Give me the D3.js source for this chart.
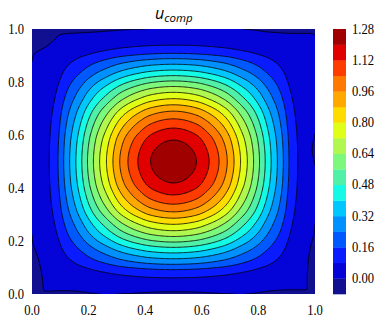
<!DOCTYPE html>
<html>
<head>
<meta charset="utf-8">
<script src="https://cdn.jsdelivr.net/npm/d3@7"></script>
<style>
body { margin: 0; background: #fff; }
svg { display: block; }
.tick-label { font-family: "Liberation Serif", "DejaVu Serif", serif; font-size: 14px; }
.title { font-family: "Open Sans", sans-serif; font-style: italic; font-size: 16px; }
</style>
</head>
<body>
<script>
// contour levels and colours (one colour per band, from -0.08 up to 1.28)
let levels = [-0.08, 0.00, 0.08, 0.16, 0.24, 0.32, 0.40, 0.48, 0.56, 0.64, 0.72, 0.80, 0.88, 0.96, 1.04, 1.12, 1.20];
let bandColors = ["#101090", "#0404d8", "#0a1cff", "#0058ff", "#0090ff", "#00c8ff", "#14fae6", "#50f0a8",
                  "#7cf87c", "#b0f850", "#e0ff18", "#ffdc00", "#ffa800", "#ff7800", "#ff3c00", "#e00000", "#a00000"];
let cbTicks = [0.00, 0.16, 0.32, 0.48, 0.64, 0.80, 0.96, 1.12, 1.28];
let axisTicks = [0.0, 0.2, 0.4, 0.6, 0.8, 1.0];

// profile along the mid line: distance from wall where each level 0.08 .. 1.20 is crossed
let profileLevels = [0.08, 0.16, 0.24, 0.32, 0.40, 0.48, 0.56, 0.64, 0.72, 0.80, 0.88, 0.96, 1.04, 1.12, 1.20];
let profileX = [0.061, 0.092, 0.112, 0.133, 0.155, 0.176, 0.196, 0.217, 0.239, 0.263, 0.286, 0.310, 0.339, 0.374, 0.419];
let peakValue = 1.254;

// small negative patches along the walls: [x, y, half width, half height, depth]
let dips = [
    [0.00, 1.00, 0.06, 0.05, 0.05],
    [0.12, 1.00, 0.14, 0.012, 0.03],
    [0.89, 1.00, 0.07, 0.010, 0.03],
    [1.00, 0.545, 0.010, 0.03, 0.03],
    [1.00, 0.115, 0.018, 0.07, 0.035],
    [0.13, 0.00, 0.05, 0.008, 0.03],
    [0.505, 0.00, 0.10, 0.008, 0.03],
    [0.885, 0.00, 0.06, 0.010, 0.03],
    [0.00, 0.07, 0.022, 0.07, 0.04]
];

let margin = {left: 32, top: 29, right: 66, bottom: 34};
let W = 381, H = 328;
let plotW = 283, plotH = 265;

let svg = d3.select("body").append("svg")
    .attr("width", W)
    .attr("height", H);

let x = d3.scaleLinear().domain([0, 1]).range([margin.left, margin.left + plotW]);
let y = d3.scaleLinear().domain([0, 1]).range([margin.top + plotH, margin.top]);

// monotone cubic through the mirrored profile
let px = [0].concat(profileX, [0.5]);
let pv = [0].concat(profileLevels, [peakValue]).map(v => v / peakValue);
function makeMonotone(xs, ys) {
    let n = xs.length, d = [], m = [];
    for (let i = 0; i < n - 1; i++) d.push((ys[i + 1] - ys[i]) / (xs[i + 1] - xs[i]));
    m[0] = d[0];
    for (let i = 1; i < n - 1; i++) m[i] = (d[i - 1] * d[i] <= 0) ? 0 : (d[i - 1] + d[i]) / 2;
    m[n - 1] = 0;
    for (let i = 0; i < n - 1; i++) {
        if (d[i] === 0) { m[i] = 0; m[i + 1] = 0; continue; }
        let a = m[i] / d[i], b = m[i + 1] / d[i], s = a * a + b * b;
        if (s > 9) { let t = 3 / Math.sqrt(s); m[i] = t * a * d[i]; m[i + 1] = t * b * d[i]; }
    }
    return function(t) {
        if (t <= xs[0]) return ys[0] + m[0] * (t - xs[0]);
        if (t >= xs[n - 1]) return ys[n - 1];
        let i = d3.bisectRight(xs, t) - 1;
        let h = xs[i + 1] - xs[i], s = (t - xs[i]) / h;
        let h00 = 2 * s * s * s - 3 * s * s + 1, h10 = s * s * s - 2 * s * s + s;
        let h01 = -2 * s * s * s + 3 * s * s, h11 = s * s * s - s * s;
        return h00 * ys[i] + h10 * h * m[i] + h01 * ys[i + 1] + h11 * h * m[i + 1];
    };
}
let prof = makeMonotone(px, pv);
function f(t) { return prof(t <= 0.5 ? t : 1 - t); }

function field(a, b) {
    let v = peakValue * f(a) * f(b);
    dips.forEach(function(d) {
        let dx = (a - d[0]) / d[2], dy = (b - d[1]) / d[3];
        v -= d[4] * Math.exp(-(dx * dx + dy * dy));
    });
    return v;
}

// grid over a slightly wider square so the polygon edges fall outside the clip
let n = 240, ext = 0.01;
let values = new Array(n * n);
for (let j = 0; j < n; j++) {
    for (let i = 0; i < n; i++) {
        let a = -ext + (i + 0.5) / n * (1 + 2 * ext);
        let b = -ext + (j + 0.5) / n * (1 + 2 * ext);
        values[j * n + i] = field(Math.max(0, Math.min(1, a)), Math.max(0, Math.min(1, b)));
    }
}

let contours = d3.contours().size([n, n]).thresholds(levels)(values);

let proj = d3.geoTransform({
    point: function(gx, gy) {
        this.stream.point(x(-ext + gx / n * (1 + 2 * ext)), y(-ext + gy / n * (1 + 2 * ext)));
    }
});
let path = d3.geoPath(proj);

svg.append("clipPath").attr("id", "clip")
    .append("rect")
    .attr("x", margin.left).attr("y", margin.top)
    .attr("width", plotW).attr("height", plotH);

let g = svg.append("g").attr("clip-path", "url(#clip)");

g.append("rect")
    .attr("x", margin.left).attr("y", margin.top)
    .attr("width", plotW).attr("height", plotH)
    .attr("fill", bandColors[0]);

g.selectAll("path.band")
    .data(contours)
    .enter()
    .append("path")
    .attr("class", "band")
    .attr("d", path)
    .attr("fill", (d, i) => bandColors[i])
    .attr("stroke", (d, i) => bandColors[i])
    .attr("stroke-width", 0.3);

g.selectAll("path.line")
    .data(contours.filter(d => d.value >= 0))
    .enter()
    .append("path")
    .attr("class", "line")
    .attr("d", path)
    .attr("fill", "none")
    .attr("stroke", "#000")
    .attr("stroke-width", 0.8);

// axis tick labels (serif, slightly condensed)
svg.selectAll("text.xt")
    .data(axisTicks)
    .enter()
    .append("text")
    .attr("class", "tick-label")
    .attr("font-family", "Liberation Serif")
    .attr("transform", d => "translate(" + x(d) + "," + 315 + ") scale(0.9,1)")
    .attr("text-anchor", "middle")
    .text(d => d.toFixed(1));

svg.selectAll("text.yt")
    .data(axisTicks)
    .enter()
    .append("text")
    .attr("class", "tick-label")
    .attr("font-family", "Liberation Serif")
    .attr("transform", d => "translate(" + 24 + "," + (y(d) + 4.5) + ") scale(0.9,1)")
    .attr("text-anchor", "end")
    .text(d => d.toFixed(1));

// colour bar
let cb = d3.scaleLinear().domain([-0.08, 1.28]).range([margin.top + plotH, margin.top]);
let cbX = 333, cbW = 13;
svg.selectAll("rect.cb")
    .data(levels)
    .enter()
    .append("rect")
    .attr("x", cbX)
    .attr("y", d => cb(d + 0.08))
    .attr("width", cbW)
    .attr("height", d => cb(d) - cb(d + 0.08) + 0.3)
    .attr("fill", (d, i) => bandColors[i]);

svg.selectAll("text.cbt")
    .data(cbTicks)
    .enter()
    .append("text")
    .attr("class", "tick-label")
    .attr("font-family", "Liberation Serif")
    .attr("transform", d => "translate(" + 352 + "," + (cb(d) + 4.5) + ") scale(0.9,1)")
    .text(d => d.toFixed(2));

// title
let title = svg.append("text")
    .attr("class", "title")
    .attr("x", 155)
    .attr("y", 19);
title.append("tspan").text("u");
title.append("tspan").attr("dy", 3).style("font-size", "11.5px").text("comp");
</script>
</body>
</html>
